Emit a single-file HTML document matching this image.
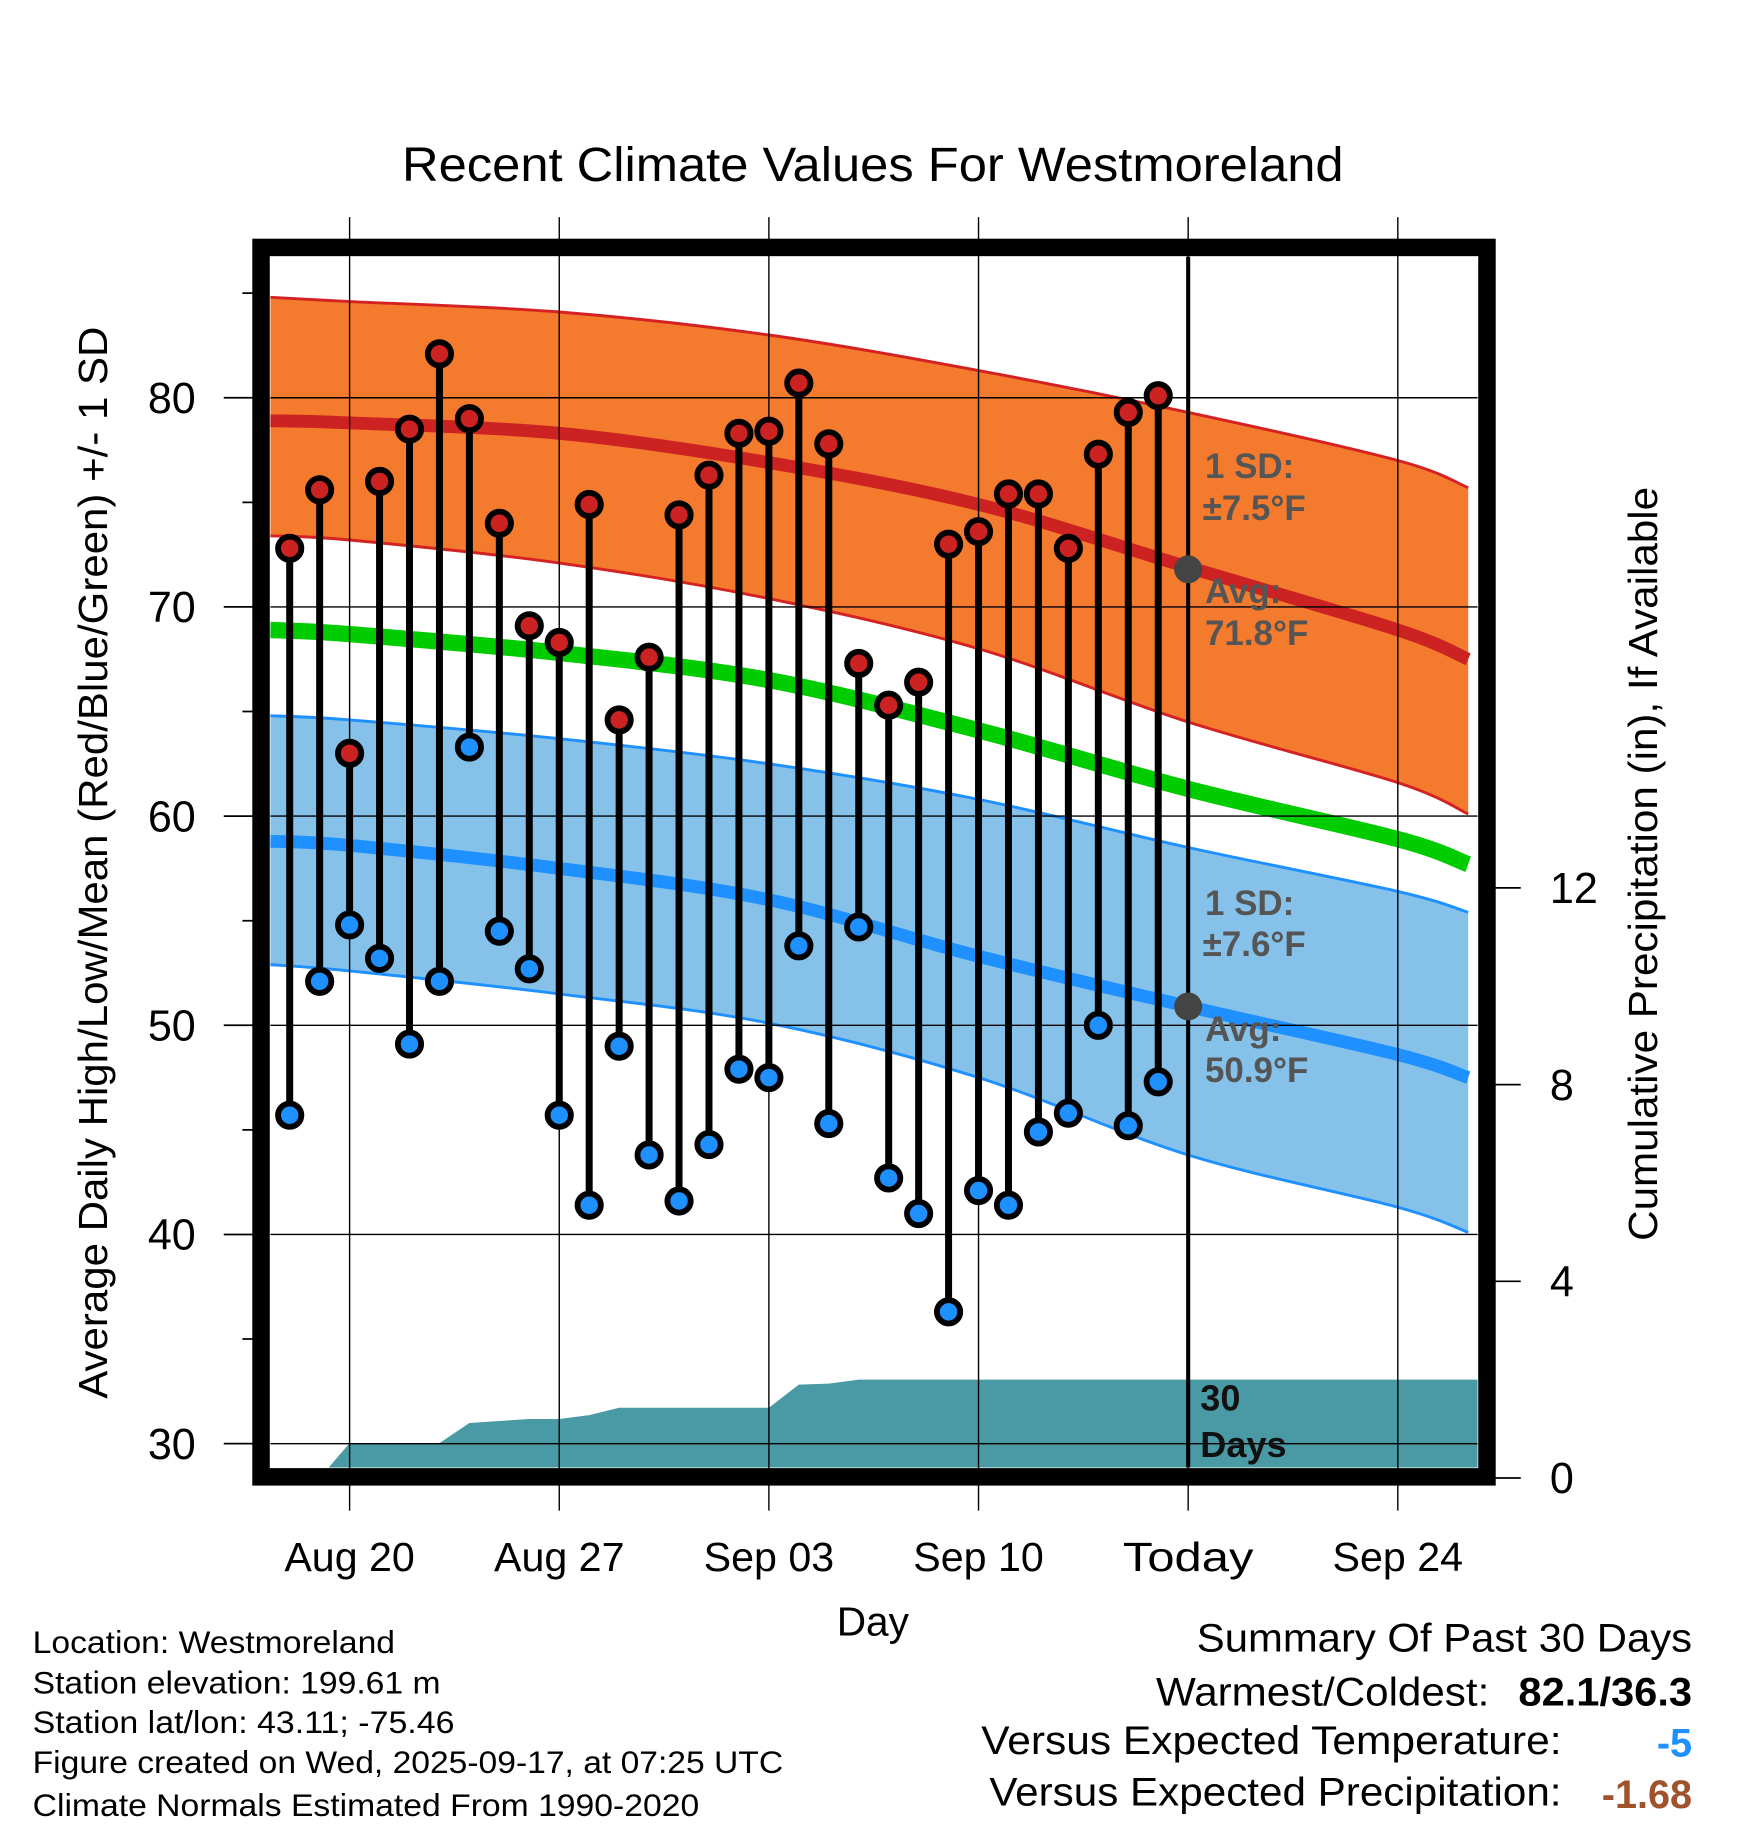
<!DOCTYPE html>
<html><head><meta charset="utf-8"><style>
html,body{margin:0;padding:0;background:#fff;}
svg{display:block;font-family:"Liberation Sans",Arial,sans-serif;}
</style></head><body>
<svg id="chart" width="1748" height="1828" viewBox="0 0 1500 1568" xmlns="http://www.w3.org/2000/svg">
<text x="749" y="155" font-size="41" text-anchor="middle" textLength="808" lengthAdjust="spacingAndGlyphs">Recent Climate Values For Westmoreland</text>
<g id="plot"></g>
<text x="749" y="1403" font-size="35" text-anchor="middle" textLength="62" lengthAdjust="spacingAndGlyphs">Day</text>
<text transform="translate(92,740) rotate(-90)" font-size="35" text-anchor="middle" textLength="920" lengthAdjust="spacingAndGlyphs">Average Daily High/Low/Mean (Red/Blue/Green) +/- 1 SD</text>
<text transform="translate(1422,741) rotate(-90)" font-size="35" text-anchor="middle" textLength="647" lengthAdjust="spacingAndGlyphs">Cumulative Precipitation (in), If Available</text>
<g font-size="27">
<text x="28" y="1418" textLength="311" lengthAdjust="spacingAndGlyphs">Location: Westmoreland</text>
<text x="28" y="1453" textLength="350" lengthAdjust="spacingAndGlyphs">Station elevation: 199.61 m</text>
<text x="28" y="1487" textLength="362" lengthAdjust="spacingAndGlyphs">Station lat/lon: 43.11; -75.46</text>
<text x="28" y="1521" textLength="644" lengthAdjust="spacingAndGlyphs">Figure created on Wed, 2025-09-17, at 07:25 UTC</text>
<text x="28" y="1558" textLength="572" lengthAdjust="spacingAndGlyphs">Climate Normals Estimated From 1990-2020</text>
</g>
<g font-size="34">
<text x="1027" y="1417" textLength="425" lengthAdjust="spacingAndGlyphs">Summary Of Past 30 Days</text>
<text x="992" y="1463" textLength="286" lengthAdjust="spacingAndGlyphs">Warmest/Coldest:</text>
<text x="1303" y="1463" font-weight="bold" textLength="149" lengthAdjust="spacingAndGlyphs">82.1/36.3</text>
<text x="842" y="1505" textLength="498" lengthAdjust="spacingAndGlyphs">Versus Expected Temperature:</text>
<text x="1452" y="1507" text-anchor="end" font-weight="bold" fill="#1e90ff">-5</text>
<text x="849" y="1549" textLength="491" lengthAdjust="spacingAndGlyphs">Versus Expected Precipitation:</text>
<text x="1452" y="1551" text-anchor="end" font-weight="bold" fill="#a0522d">-1.68</text>
</g>
</svg>
<script>
// ---- data ----
const highs = [72.8,75.6,63.0,76.0,78.5,82.1,79.0,74.0,69.1,68.3,74.9,64.6,67.6,74.4,76.3,78.3,78.4,80.7,77.8,67.3,65.3,66.4,73.0,73.6,75.4,75.4,72.8,77.3,79.3,80.1];
const lows = [45.7,52.1,54.8,53.2,49.1,52.1,63.3,54.5,52.7,45.7,41.4,49.0,43.8,41.6,44.3,47.9,47.5,53.8,45.3,54.7,42.7,41.0,36.3,42.1,41.4,44.9,45.8,50.0,45.2,47.3];
const precipCum = [0,0,0.71,0.71,0.71,0.71,1.12,1.16,1.2,1.2,1.28,1.43,1.43,1.43,1.43,1.43,1.43,1.9,1.92,2.0,2.0,2.0,2.0,2.0,2.0,2.0,2.0,2.0,2.0,2.0];
const normDays = [-2.65,0,7,14,21,28,35,37.35]; // days from Aug 20
const highMean = [78.9,78.8,78.3,76.9,74.9,71.9,68.9,67.5];
const highUpper = [84.8,84.6,84.1,83.0,81.3,79.3,77.0,75.7];
const highLower = [73.4,73.2,72.1,70.4,68.0,64.5,61.6,60.1];
const meanNorm = [68.9,68.7,67.8,66.5,64.1,61.3,58.9,57.7];
const lowMean = [58.8,58.6,57.5,56.0,53.3,50.9,48.6,47.5];
const lowUpper = [64.8,64.6,63.7,62.5,60.8,58.5,56.4,55.4];
const lowLower = [52.9,52.6,51.5,50.1,47.5,43.8,41.3,40.1];
const xTickLabels = ["Aug 20","Aug 27","Sep 03","Sep 10","Today","Sep 24"];
const yTicks = [30,40,50,60,70,80];
const y2Ticks = [0,4,8,12];
const startDay = -2; // first observation Aug 18
const todayDay = 28;

// ---- axes ----
const L=232,R=1268,T=220,B=1259;
const x = d => 300 + d*25.7;
const y = v => 341 + (80-v)*17.95;
const y2 = p => 1268 - p*42.2;
const NS="http://www.w3.org/2000/svg";
const g=document.getElementById('plot');
function mk(tag,attrs,parent){const e=document.createElementNS(NS,tag);for(const k in attrs)e.setAttribute(k,attrs[k]);(parent||g).appendChild(e);return e;}
const clip=mk('clipPath',{id:'pc'});mk('rect',{x:L,y:T,width:R-L,height:B-T},clip);
const inner=mk('g',{'clip-path':'url(#pc)'});

// smooth path through points (Catmull-Rom)
function smooth(pts,move){
  let d=(move?'M':'L')+pts[0][0]+','+pts[0][1];
  for(let i=0;i<pts.length-1;i++){
    const p0=pts[Math.max(0,i-1)],p1=pts[i],p2=pts[i+1],p3=pts[Math.min(pts.length-1,i+2)];
    const c1=[p1[0]+(p2[0]-p0[0])/6,p1[1]+(p2[1]-p0[1])/6];
    const c2=[p2[0]-(p3[0]-p1[0])/6,p2[1]-(p3[1]-p1[1])/6];
    d+=' C'+c1[0]+','+c1[1]+' '+c2[0]+','+c2[1]+' '+p2[0]+','+p2[1];
  }
  return d;
}
const pts = arr => normDays.map((t,i)=>[x(t),y(arr[i])]);

function band(up,lo,fill,stroke,name){
  let d=smooth(pts(up),true)+' '+smooth(pts(lo).reverse(),false)+' Z';
  const p=mk('path',{d:d,fill:fill},inner);
  
  
  [up,lo].forEach(arr=>{mk('path',{d:smooth(pts(arr),true),fill:'none',stroke:stroke,'stroke-width':2.5},inner);});
}
function line(arr,color,w,name){
  const p=mk('path',{d:smooth(pts(arr),true),fill:'none',stroke:color,'stroke-width':w},inner);
  
  
}
band(highUpper,highLower,'#f47a2e','#d42222','high-sd-band');
band(lowUpper,lowLower,'#85c1e9','#1e90ff','low-sd-band');
line(highMean,'#cc2222',11,'normal-high-line');
line(lowMean,'#1e90ff',11,'normal-low-line');
line(meanNorm,'#00cc00',14,'normal-mean-line');

// precip area
let pd='M'+x(startDay)+','+y2(0);
precipCum.forEach((p,i)=>{pd+=' L'+x(startDay+i)+','+y2(p);});
pd+=' L'+R+','+y2(precipCum[precipCum.length-1])+' L'+R+','+B+' L'+x(startDay)+','+B+' Z';
const pa=mk('path',{d:pd,fill:'#4a9aa5'},inner);



// grid
yTicks.forEach(v=>{mk('line',{x1:L,x2:R,y1:y(v),y2:y(v),stroke:'#000','stroke-width':1.2},inner);});
xTickLabels.forEach((l,i)=>{mk('line',{x1:x(i*7),x2:x(i*7),y1:186,y2:1296,stroke:'#000','stroke-width':1.2});});

// today line
const tl=mk('line',{x1:x(todayDay),x2:x(todayDay),y1:T,y2:B,stroke:'#000','stroke-width':3.5});



// labels in plot
function txt(s,xx,yy,attrs,name){const t=mk('text',Object.assign({x:xx,y:yy},attrs));t.textContent=s;return t;}
const lab={fill:'#555','font-size':30,'font-weight':'bold'};
txt('1 SD:',1034,410,lab,'high-sd-label');
txt('±7.5°F',1032,446,lab,'high-sd-value');
txt('Avg:',1034,517,lab,'high-avg-label');
txt('71.8°F',1034,553,lab,'high-avg-value');
txt('1 SD:',1034,785,lab,'low-sd-label');
txt('±7.6°F',1032,820,lab,'low-sd-value');
txt('Avg:',1034,893,lab,'low-avg-label');
txt('50.9°F',1034,928,lab,'low-avg-value');
const dl={fill:'#111','font-size':31,'font-weight':'bold'};
txt('30',1030,1210,dl,'days-label-1');
txt('Days',1030,1250,dl,'days-label-2');
mk('circle',{cx:x(todayDay),cy:y(71.8),r:12,fill:'#444'});
mk('circle',{cx:x(todayDay),cy:y(50.9),r:12,fill:'#444'});

// observations
highs.forEach((h,i)=>{
  const xx=x(startDay+i);
  const s=mk('line',{x1:xx,x2:xx,y1:y(h),y2:y(lows[i]),stroke:'#000','stroke-width':6});
  
  
  const c1=mk('circle',{cx:xx,cy:y(h),r:10,fill:'#cc2222',stroke:'#000','stroke-width':5});
  
  
  const c2=mk('circle',{cx:xx,cy:y(lows[i]),r:10,fill:'#1e90ff',stroke:'#000','stroke-width':5});
  
  
});

// frame
const fr=mk('rect',{x:224,y:212,width:1052,height:1055,fill:'none',stroke:'#000','stroke-width':15});



// left ticks
for(let v=30;v<=85;v+=5){
  const major=v%10===0;
  mk('line',{x1:major?192:208,x2:224,y1:y(v),y2:y(v),stroke:'#000','stroke-width':1.5});
}
yTicks.forEach(v=>{txt(String(v),168,y(v)+13,{'font-size':37,'text-anchor':'end'},'y-tick-label');});
// right ticks
y2Ticks.forEach(p=>{
  mk('line',{x1:1276,x2:1305,y1:y2(p),y2:y2(p),stroke:'#000','stroke-width':1.5});
  txt(String(p),1330,y2(p)+13,{'font-size':37},'y2-tick-label');
});
// x tick labels
xTickLabels.forEach((l,i)=>{txt(l,x(i*7),1348,{'font-size':35,'text-anchor':'middle','textLength':112,'lengthAdjust':'spacingAndGlyphs'},'x-tick-label');});
</script>
</body></html>
